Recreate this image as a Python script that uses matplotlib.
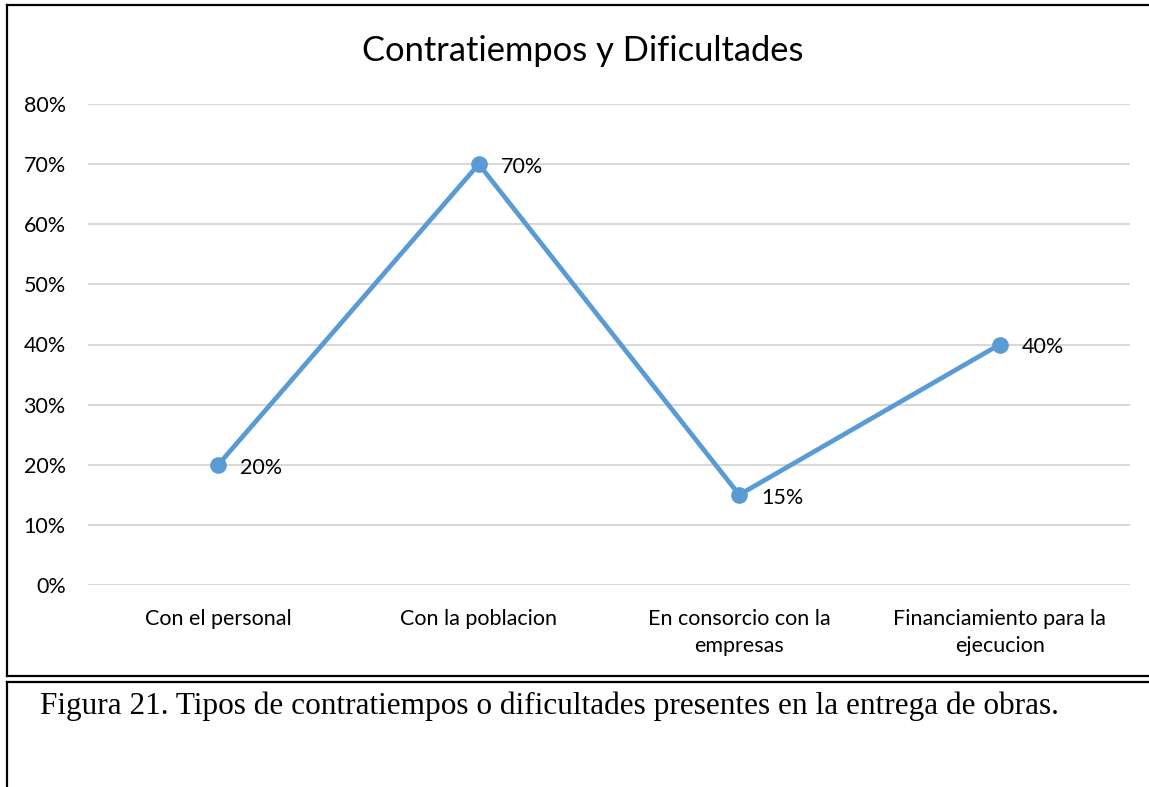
import matplotlib
matplotlib.use("Agg")
import matplotlib.pyplot as plt
from matplotlib.lines import Line2D
from matplotlib.ticker import FuncFormatter

categories = ["Con el personal", "Con la poblacion",
              "En consorcio con la\nempresas", "Financiamiento para la\nejecucion"]
values = [0.20, 0.70, 0.15, 0.40]
yticks = [0.0, 0.1, 0.2, 0.3, 0.4, 0.5, 0.6, 0.7, 0.8]
title = "Contratiempos y Dificultades"
caption = "Figura 21. Tipos de contratiempos o dificultades presentes en la entrega de obras."

W, H = 1149, 787
fig = plt.figure(figsize=(W / 100, H / 100), dpi=100)
sans = ["Lato", "DejaVu Sans"]
fs = 15.5

ax = fig.add_axes([88 / W, (H - 585) / H, (1130 - 88) / W, (585 - 104) / H])
x = list(range(len(categories)))
ax.plot(x, values, color="#5B9BD5", lw=3.4, marker="o", ms=11,
        solid_capstyle="round", zorder=3)
for xi, v in zip(x, values):
    ax.annotate(f"{v:.0%}", (xi, v), xytext=(16, -2), textcoords="offset points",
                ha="left", va="center", fontsize=fs, family=sans, color="#000000")

ax.set_xlim(-0.5, len(categories) - 0.5)
ax.set_ylim(0, 0.8)
ax.set_yticks(yticks)
ax.yaxis.set_major_formatter(FuncFormatter(lambda v, p: f"{v:.0%}"))
ax.set_xticks(x)
ax.set_xticklabels(categories, family=sans, fontsize=fs, linespacing=1.45)
for lab in ax.get_yticklabels():
    lab.set_family(sans)
    lab.set_fontsize(fs)
ax.tick_params(axis="both", length=0, colors="#000000")
ax.tick_params(axis="y", pad=16)
ax.tick_params(axis="x", pad=17)
ax.grid(axis="y", color="#D9D9D9", lw=1.5)
ax.set_axisbelow(True)
for s in ax.spines.values():
    s.set_visible(False)

fig.text(583 / W, 1 - 51 / H, title, ha="center", va="center",
         fontsize=24.8, family=sans, color="#000000")
fig.text(40 / W, 1 - 706 / H, caption, ha="left", va="center",
         fontsize=22.5, family=["Liberation Serif", "DejaVu Serif"], color="#000000")

def hline(y, x0=0, x1=W, lw=1.6):
    fig.add_artist(Line2D([x0 / W, x1 / W], [1 - y / H, 1 - y / H], color="black", lw=lw,
                          solid_capstyle="projecting"))

def vline(xp, y0, y1, lw=1.6):
    fig.add_artist(Line2D([xp / W, xp / W], [1 - y0 / H, 1 - y1 / H], color="black", lw=lw,
                          solid_capstyle="projecting"))

# chart box
hline(4.5, 7, W)
vline(7, 4.5, 676)
hline(676, 7, W)
# caption box
hline(682, 7, W)
vline(7, 682, H + 2)

fig.savefig("out.png", dpi=100, facecolor="white")
